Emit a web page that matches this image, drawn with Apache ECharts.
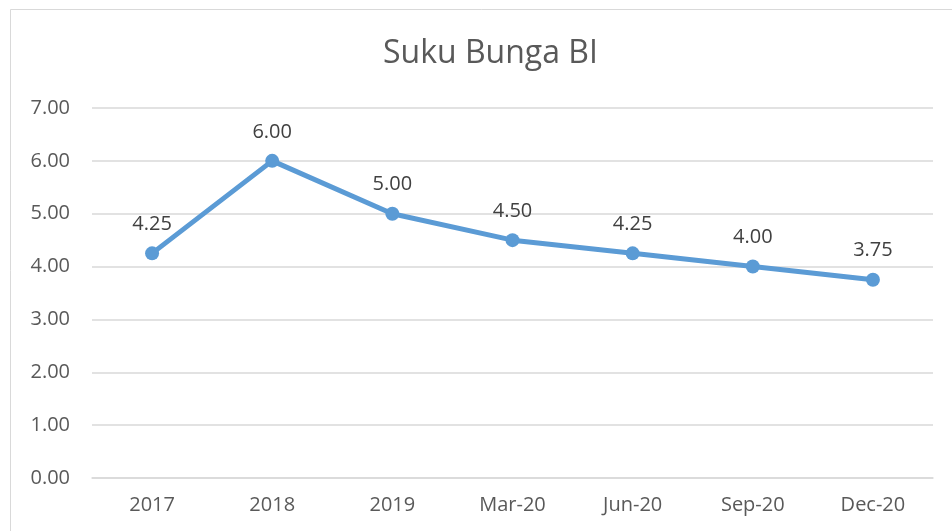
<!DOCTYPE html>
<html>
<head>
<meta charset="utf-8">
<script src="https://cdn.jsdelivr.net/npm/echarts@6/dist/echarts.min.js"></script>
<style>
	html, body { margin: 0; padding: 0; background: #fff; }
	#chart { width: 952px; height: 531px; }
</style>
</head>
<body>
<div id="chart"></div>
<script>
// kategori dan nilai suku bunga
var categories = ['2017', '2018', '2019', 'Mar-20', 'Jun-20', 'Sep-20', 'Dec-20'];
var rates = [4.25, 6.00, 5.00, 4.50, 4.25, 4.00, 3.75];
var chartTitle = 'Suku Bunga BI';

var myChart = echarts.init(document.getElementById('chart'));
var fontFamily = '"Open Sans", "Noto Sans", sans-serif';
var option = {
	backgroundColor: '#fff',
	animation: false,
	title: {
		text: chartTitle,
		left: 378,
		top: 33,
		textStyle: {
			color: '#595959',
			fontSize: 32,
			fontWeight: 'normal',
			fontFamily: fontFamily
		}
	},
	graphic: [{
		type: 'rect',
		shape: { x: 10.5, y: 9.5, width: 960, height: 540 },
		style: { fill: 'none', stroke: '#d9d9d9', lineWidth: 1 },
		silent: true
	}],
	grid: {
		left: 92,
		right: 19,
		top: 108,
		bottom: 53
	},
	xAxis: {
		type: 'category',
		data: categories,
		boundaryGap: true,
		axisLine: { show: true, lineStyle: { color: '#d9d9d9', width: 1.5 } },
		axisTick: { show: false },
		axisLabel: {
			color: '#595959',
			fontSize: 20,
			fontFamily: fontFamily,
			margin: 17
		}
	},
	yAxis: {
		type: 'value',
		min: 0,
		max: 7,
		interval: 1,
		axisLine: { show: false },
		axisTick: { show: false },
		axisLabel: {
			color: '#595959',
			fontSize: 20,
			fontFamily: fontFamily,
			margin: 22,
			formatter: function (v) { return v.toFixed(2); }
		},
		splitLine: { lineStyle: { color: '#d9d9d9', width: 1.5 } }
	},
	series: [{
		name: chartTitle,
		type: 'line',
		data: rates,
		symbol: 'circle',
		symbolSize: 14,
		lineStyle: { color: '#5b9bd5', width: 5 },
		itemStyle: { color: '#5b9bd5' },
		label: {
			show: true,
			position: 'top',
			distance: 12,
			color: '#404040',
			fontSize: 20,
			fontFamily: fontFamily,
			formatter: function (p) { return p.value.toFixed(2); }
		}
	}]
};
myChart.setOption(option);
</script>
</body>
</html>
